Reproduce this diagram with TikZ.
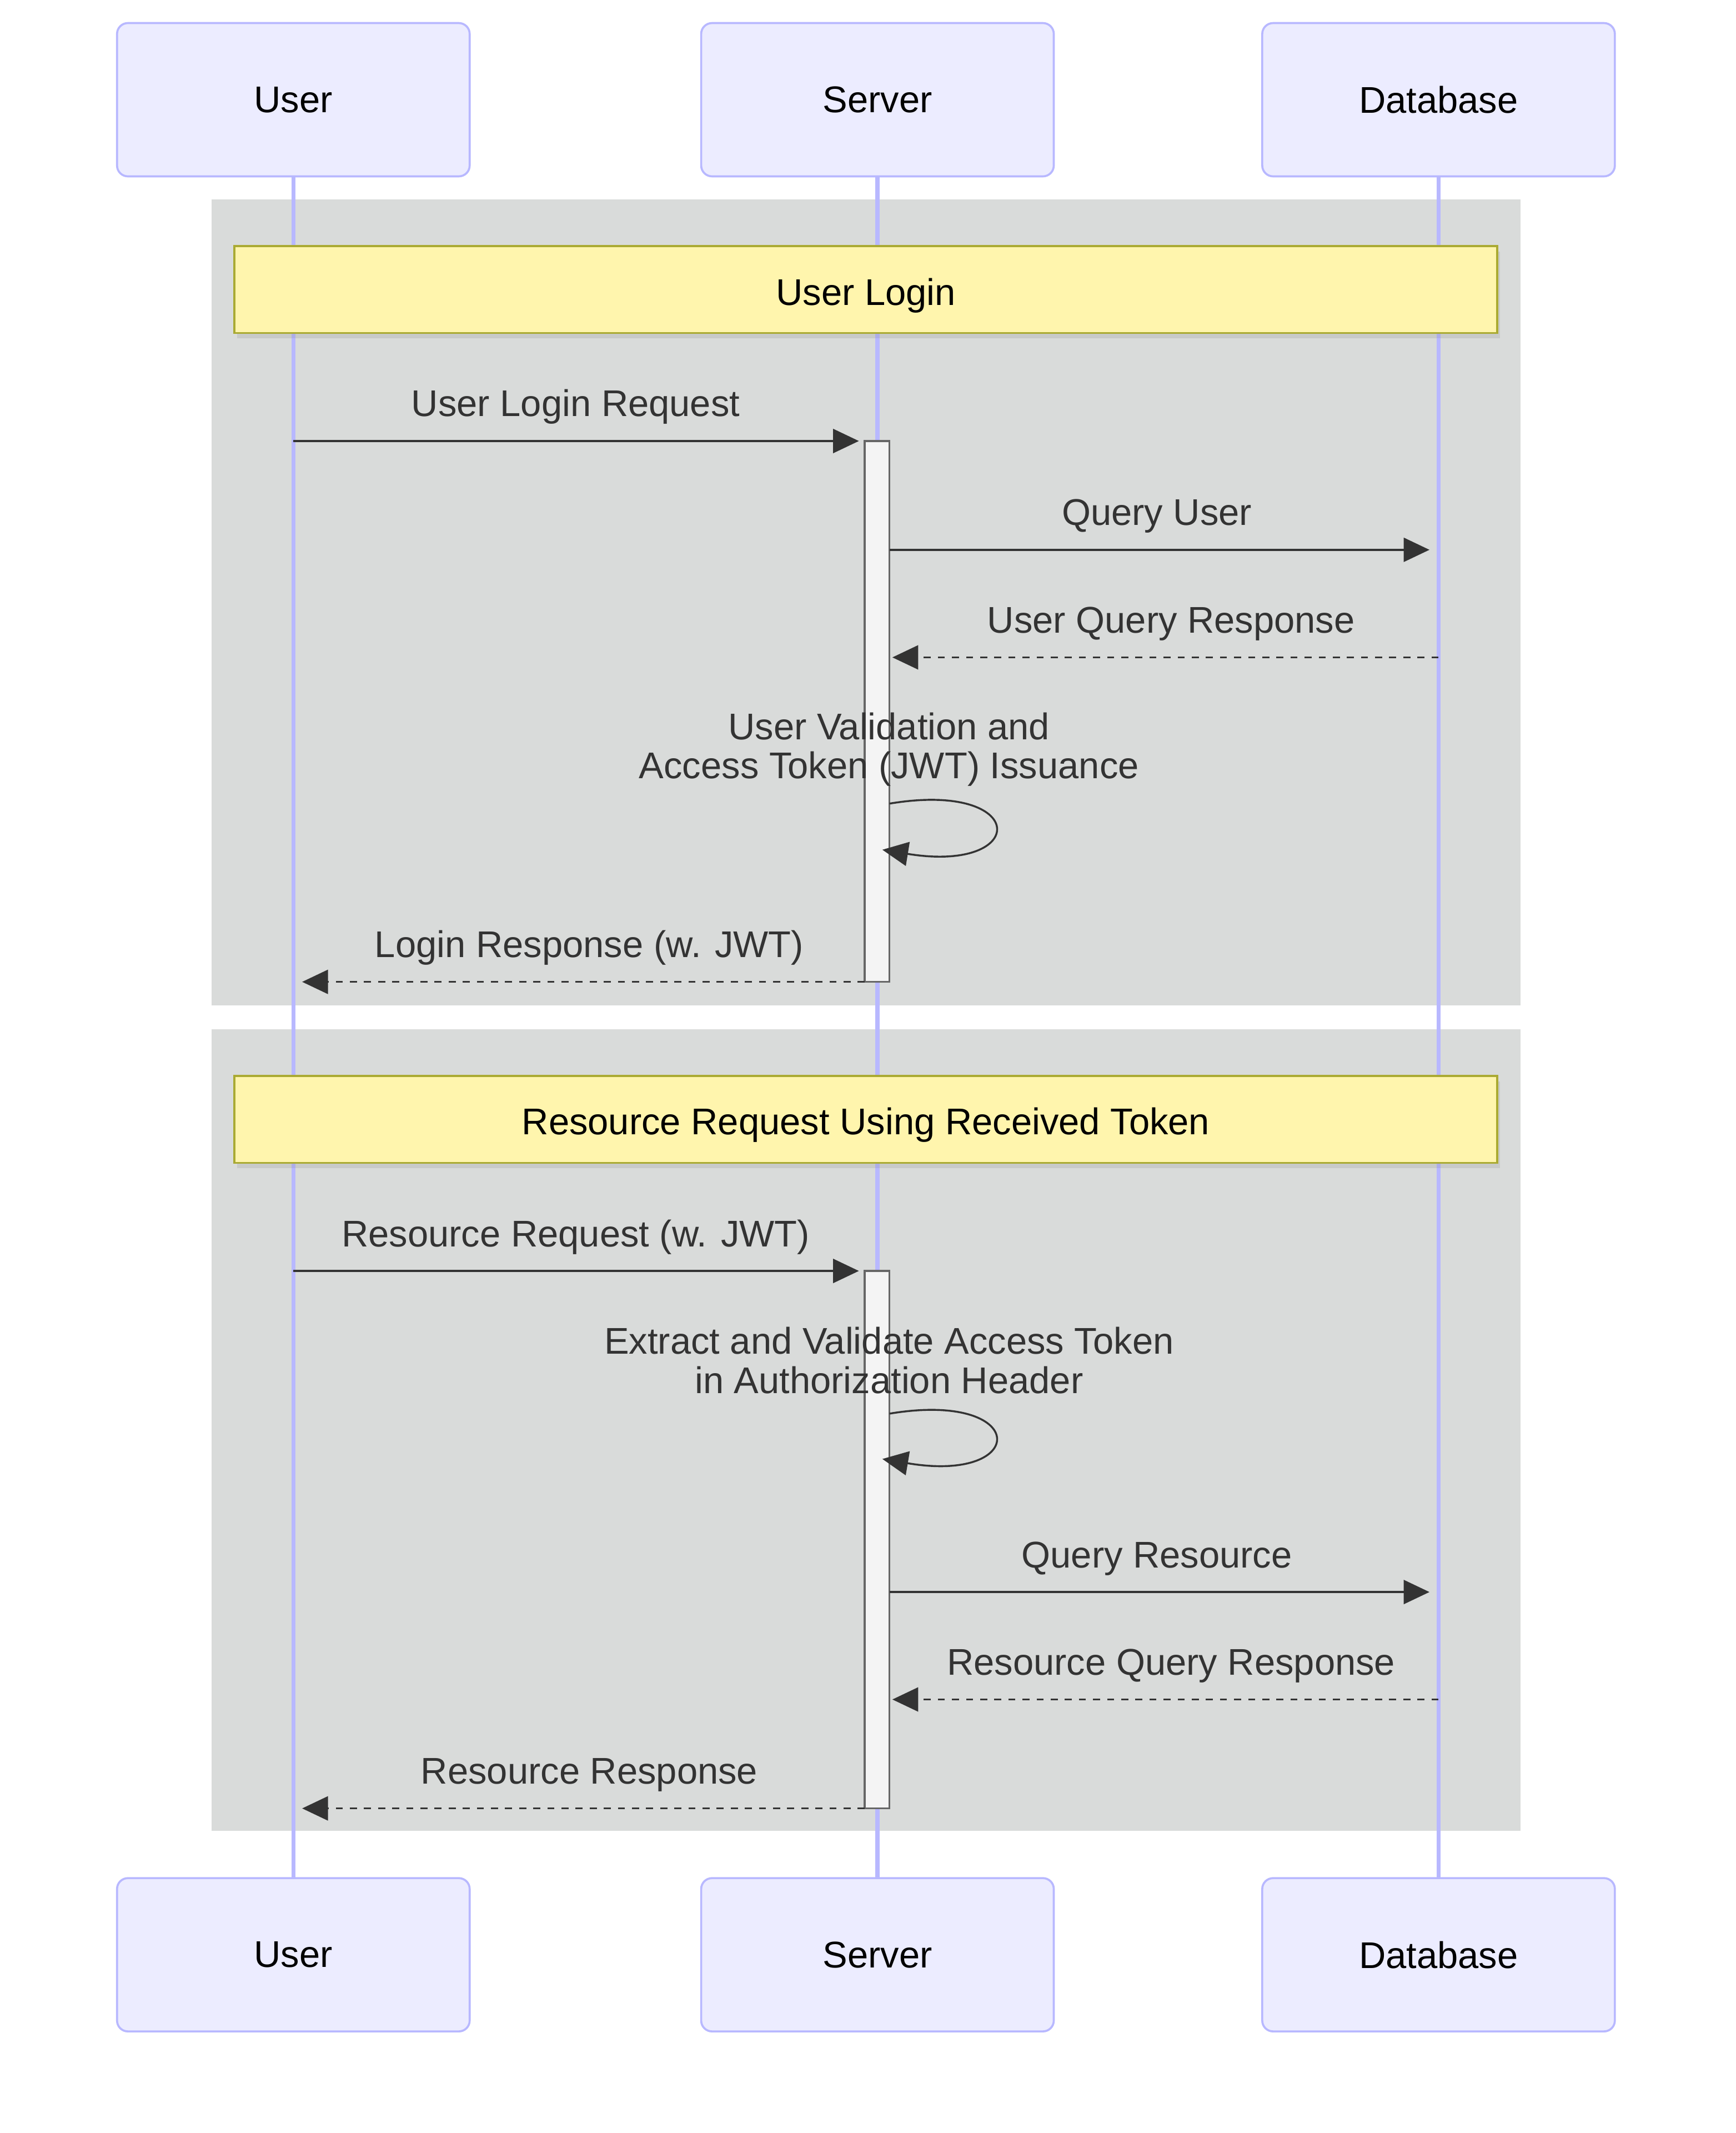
\documentclass[tikz,border=0pt]{standalone}
\usepackage{fontspec}
\setmainfont{Liberation Sans}
\usetikzlibrary{arrows.meta,shadows}
\definecolor{actorfill}{HTML}{ECECFF}
\definecolor{actorline}{HTML}{B8B8FF}
\definecolor{groupgrey}{RGB}{217,219,218}
\definecolor{notefill}{HTML}{FFF5AD}
\definecolor{noteline}{HTML}{AAAA33}
\definecolor{msgtext}{HTML}{333333}
\definecolor{barfill}{HTML}{F4F4F4}
\definecolor{barline}{HTML}{666666}
\tikzset{
	actor/.style={draw=actorline, fill=actorfill, line width=1.5pt, rounded corners=8pt, minimum width=260pt, minimum height=113pt, inner sep=0pt, outer sep=0pt},
	lifeline/.style={draw=actorline, line width=3pt},
	group/.style={fill=groupgrey},
	note/.style={draw=noteline, fill=notefill, line width=1.5pt, minimum width=931.2pt, minimum height=64pt, inner sep=0pt, text height=22.6pt, text depth=0pt, drop shadow={opacity=0.18, shadow xshift=2pt, shadow yshift=-4pt}},
	actbar/.style={draw=barline, fill=barfill, line width=1.4pt, minimum width=18.2pt, inner sep=0pt, outer sep=0pt},
	msg/.style={draw=msgtext, line width=1.4pt, -{Triangle[length=19pt, width=17.7pt]}},
	reply/.style={msg, dash pattern=on 5.2pt off 5.2pt},
	msglabel/.style={text=msgtext, anchor=base, inner sep=0pt}
}
\begin{document}
\begin{tikzpicture}[x=1pt, y=-1pt, font=\fontsize{27.4}{33}\selectfont]
	\fill[white] (0,0) rectangle (1280,1572.4);
	\useasboundingbox (0,0) rectangle (1280,1572.4);
	\node[actor] (userTop) at (216.3,73.5) {User};
	\node[actor] (serverTop) at (647,73.5) {Server};
	\node[actor] (dbTop) at (1060.7,73.5) {Database};
	\node[actor] (userBot) at (216.3,1441) {User};
	\node[actor] (serverBot) at (647,1441) {Server};
	\node[actor] (dbBot) at (1060.7,1441) {Database};
	\fill[group] (156,147) rectangle (1121,741);
	\fill[group] (156,758.6) rectangle (1121,1349.8);
	\draw[lifeline] (userTop.south) -- (userBot.north);
	\draw[lifeline] (serverTop.south) -- (serverBot.north);
	\draw[lifeline] (dbTop.south) -- (dbBot.north);
	\node[note] (loginNote) at (638.4,213.5) {User Login};
	\node[note] (resourceNote) at (638.4,825.2) {Resource Request Using Received Token};
	\node[actbar, minimum height=398.7pt] (bar1) at (646.7,524.45) {};
	\node[actbar, minimum height=396.2pt] (bar2) at (646.7,1135) {};
	\coordinate (r2) at (0,405.3);
	\coordinate (r3) at (0,484.6);
	\coordinate (r6) at (0,1173.6);
	\coordinate (r7) at (0,1252.8);
	\coordinate (loop1a) at (655.8,592.4);
	\coordinate (loop1b) at (650.6,626.4);
	\coordinate (loop2a) at (655.8,1042.1);
	\coordinate (loop2b) at (650.6,1075.5);
	\draw[msg, shorten >=4.3pt] (userTop |- bar1.north west) -- (bar1.north west);
	\node[msglabel] (loginReq) at (424.5,307.1) {User Login Request};
	\draw[msg, shorten >=6.7pt] (bar1.east |- r2) -- (dbTop |- r2);
	\node[msglabel] (queryUser) at (853,387.3) {Query User};
	\draw[reply, shorten >=2.2pt] (dbTop |- r3) -- (bar1.east |- r3);
	\node[msglabel] (queryUserResp) at (863.5,466.6) {User Query Response};
	\node[msglabel] (validateA) at (655.5,545.3) {User Validation and};
	\node[msglabel] (validateB) at (655.5,574) {Access Token (JWT) Issuance};
	\draw[msg] (loop1a) .. controls (759.4,575.1) and (759.4,644.2) .. (loop1b);
	\draw[reply, shorten >=6.5pt] (bar1.south west) -- (userTop |- bar1.south west);
	\node[msglabel] (loginResp) at (434.5,705.8) {Login Response (w. JWT)};
	\draw[msg, shorten >=4.3pt] (userTop |- bar2.north west) -- (bar2.north west);
	\node[msglabel] (resourceReq) at (424.5,918.9) {Resource Request (w. JWT)};
	\node[msglabel] (extractA) at (655.5,998) {Extract and Validate Access Token};
	\node[msglabel] (extractB) at (655.5,1027) {in Authorization Header};
	\draw[msg] (loop2a) .. controls (759.4,1024.8) and (759.4,1093.9) .. (loop2b);
	\draw[msg, shorten >=6.7pt] (bar2.east |- r6) -- (dbTop |- r6);
	\node[msglabel] (queryRes) at (853,1155.6) {Query Resource};
	\draw[reply, shorten >=2.2pt] (dbTop |- r7) -- (bar2.east |- r7);
	\node[msglabel] (queryResResp) at (863.5,1234.8) {Resource Query Response};
	\draw[reply, shorten >=6.5pt] (bar2.south west) -- (userTop |- bar2.south west);
	\node[msglabel] (resourceResp) at (434.5,1315.1) {Resource Response};
\end{tikzpicture}
\end{document}
